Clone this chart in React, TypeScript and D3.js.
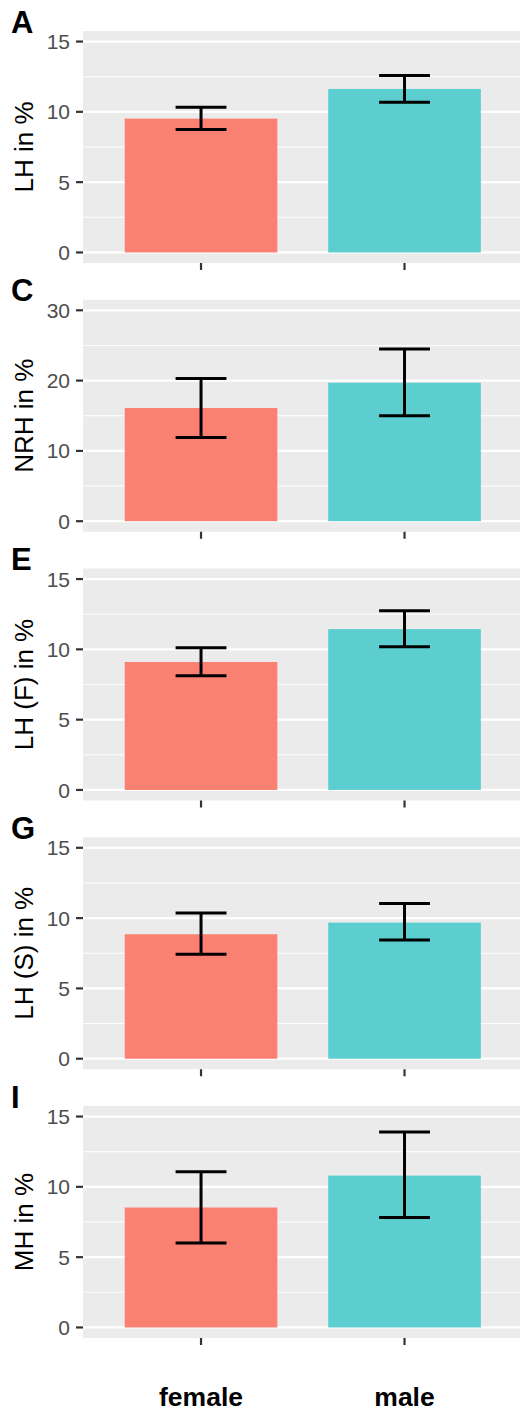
import React from 'react';
import * as d3 from 'd3';

// Data
const categories = ['female', 'male'];
const panelLetters = ['A', 'C', 'E', 'G', 'I'];
const yTitles = ['LH in %', 'NRH in %', 'LH (F) in %', 'LH (S) in %', 'MH in %'];
const yLimits = [15, 30, 15, 15, 15];
const yBreaks = [
  [0, 5, 10, 15],
  [0, 10, 20, 30],
  [0, 5, 10, 15],
  [0, 5, 10, 15],
  [0, 5, 10, 15],
];
const femaleMean = [9.52, 16.1, 9.1, 8.85, 8.53];
const femaleLow = [8.74, 11.9, 8.12, 7.43, 6.0];
const femaleHigh = [10.33, 20.3, 10.11, 10.36, 11.07];
const maleMean = [11.63, 19.7, 11.44, 9.68, 10.8];
const maleLow = [10.68, 15.0, 10.18, 8.45, 7.82];
const maleHigh = [12.58, 24.5, 12.74, 11.03, 13.9];

const fills = ['#FA8072', '#5DCECF'];

const W = 520;
const H = 1413;
const plotLeft = 83;
const firstTop = 31;
const panelStep = 268.75;
const panelH = 232;
const font = '"Liberation Sans", Arial, Helvetica, sans-serif';

const x = d3.scaleLinear().domain([0.42, 2.6]).range([plotLeft, plotLeft + 2.18 * 203.5]);

const Panel = ({ i }: { i: number }) => {
  const top = firstTop + i * panelStep;
  const bottom = top + panelH;
  const lim = yLimits[i];
  const pad = lim * 0.05;
  const y = d3.scaleLinear().domain([-pad, lim + pad]).range([bottom, top]);
  const major = yBreaks[i];
  const minor = major.slice(1).map((b, k) => (b + major[k]) / 2);
  const rows = categories.map((c, k) => ({
    cat: c,
    pos: k + 1,
    mean: k === 0 ? femaleMean[i] : maleMean[i],
    lo: k === 0 ? femaleLow[i] : maleLow[i],
    hi: k === 0 ? femaleHigh[i] : maleHigh[i],
    fill: fills[k],
  }));
  const barW = x(1.75) - x(1);
  const capW = x(1.25) - x(1);
  const isLast = i === panelLetters.length - 1;

  return (
    <g>
      <rect x={plotLeft} y={top} width={W - plotLeft} height={panelH} fill="#EBEBEB" />
      {minor.map((m) => (
        <line key={'mi' + m} x1={plotLeft} x2={W} y1={y(m)} y2={y(m)} stroke="#fff" strokeWidth={1.1} />
      ))}
      {major.map((m) => (
        <line key={'ma' + m} x1={plotLeft} x2={W} y1={y(m)} y2={y(m)} stroke="#fff" strokeWidth={2.2} />
      ))}
      {rows.map((r) => (
        <rect
          key={r.cat}
          x={x(r.pos) - barW / 2}
          y={y(r.mean)}
          width={barW}
          height={y(0) - y(r.mean)}
          fill={r.fill}
        />
      ))}
      {rows.map((r) => (
        <g key={'e' + r.cat} stroke="#000" strokeWidth={3} fill="none">
          <line x1={x(r.pos)} x2={x(r.pos)} y1={y(r.lo)} y2={y(r.hi)} />
          <line x1={x(r.pos) - capW / 2} x2={x(r.pos) + capW / 2} y1={y(r.lo)} y2={y(r.lo)} />
          <line x1={x(r.pos) - capW / 2} x2={x(r.pos) + capW / 2} y1={y(r.hi)} y2={y(r.hi)} />
        </g>
      ))}
      {/* y axis ticks and labels */}
      {major.map((m) => (
        <g key={'t' + m}>
          <line x1={plotLeft - 7} x2={plotLeft} y1={y(m)} y2={y(m)} stroke="#333" strokeWidth={2.2} />
          <text
            x={plotLeft - 13}
            y={y(m)}
            dy="0.36em"
            textAnchor="end"
            fontFamily={font}
            fontSize={21}
            fill="#4D4D4D"
          >
            {m}
          </text>
        </g>
      ))}
      {/* x axis ticks */}
      {rows.map((r) => (
        <line key={'xt' + r.cat} x1={x(r.pos)} x2={x(r.pos)} y1={bottom} y2={bottom + 7} stroke="#333" strokeWidth={2.2} />
      ))}
      {isLast &&
        rows.map((r) => (
          <text
            key={'xl' + r.cat}
            x={x(r.pos)}
            y={bottom + 68}
            textAnchor="middle"
            fontFamily={font}
            fontWeight="bold"
            fontSize={26.5}
            fill="#000"
          >
            {r.cat}
          </text>
        ))}
      <text
        transform={`translate(33, ${(top + bottom) / 2}) rotate(-90)`}
        textAnchor="middle"
        fontFamily={font}
        fontSize={26}
        fill="#000"
      >
        {yTitles[i]}
      </text>
      <text x={11} y={top + 1.5} fontFamily={font} fontWeight="bold" fontSize={31} fill="#000">
        {panelLetters[i]}
      </text>
    </g>
  );
};

export default function App() {
  return (
    <div style={{ position: 'absolute', left: 0, top: 0 }}>
      <svg width={W} height={H} style={{ display: 'block', background: '#fff' }}>
        {panelLetters.map((_, i) => (
          <Panel key={i} i={i} />
        ))}
      </svg>
    </div>
  );
}
